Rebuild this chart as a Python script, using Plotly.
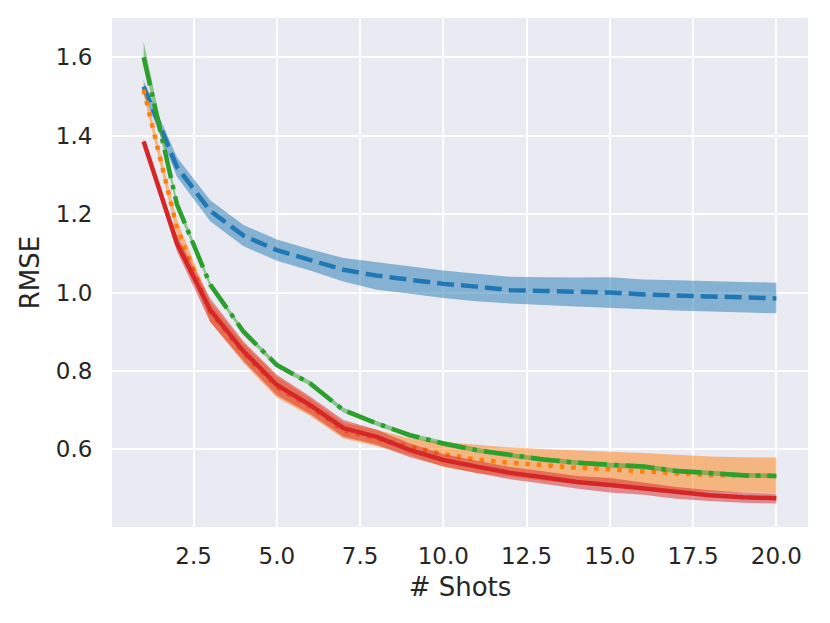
import plotly.graph_objects as go

shots = list(range(1, 21))

blue_mean = [1.525, 1.320, 1.208, 1.145, 1.108, 1.083, 1.058, 1.043, 1.033, 1.022,
             1.015, 1.006, 1.004, 1.002, 1.000, 0.995, 0.992, 0.990, 0.988, 0.985]
blue_upper = [1.540, 1.345, 1.235, 1.172, 1.135, 1.110, 1.088, 1.077, 1.067, 1.056,
              1.048, 1.040, 1.039, 1.038, 1.039, 1.033, 1.031, 1.029, 1.027, 1.025]
blue_lower = [1.505, 1.295, 1.182, 1.118, 1.081, 1.056, 1.028, 1.007, 0.997, 0.986,
              0.978, 0.972, 0.968, 0.964, 0.960, 0.957, 0.954, 0.951, 0.949, 0.947]

orange_mean = [1.517, 1.165, 0.950, 0.845, 0.758, 0.708, 0.648, 0.627, 0.607, 0.588,
               0.574, 0.566, 0.559, 0.553, 0.549, 0.545, 0.539, 0.534, 0.533, 0.532]
orange_upper = [1.530, 1.185, 0.975, 0.870, 0.785, 0.730, 0.668, 0.650, 0.628, 0.619,
                0.612, 0.605, 0.601, 0.597, 0.594, 0.591, 0.586, 0.582, 0.580, 0.579]
orange_lower = [1.505, 1.145, 0.925, 0.820, 0.732, 0.685, 0.628, 0.608, 0.585, 0.555,
                0.540, 0.530, 0.520, 0.512, 0.505, 0.500, 0.496, 0.492, 0.490, 0.489]

green_mean = [1.600, 1.225, 1.020, 0.900, 0.815, 0.768, 0.700, 0.666, 0.636, 0.615,
              0.598, 0.585, 0.574, 0.566, 0.560, 0.556, 0.545, 0.539, 0.534, 0.532]
green_upper = [1.640, 1.235, 1.027, 0.906, 0.821, 0.774, 0.706, 0.672, 0.642, 0.621,
               0.604, 0.591, 0.580, 0.572, 0.566, 0.562, 0.551, 0.545, 0.540, 0.538]
green_lower = [1.585, 1.215, 1.013, 0.894, 0.809, 0.762, 0.694, 0.660, 0.630, 0.609,
               0.592, 0.579, 0.568, 0.560, 0.554, 0.550, 0.539, 0.533, 0.528, 0.526]

red_mean = [1.385, 1.125, 0.955, 0.850, 0.764, 0.713, 0.654, 0.632, 0.598, 0.573,
            0.556, 0.540, 0.529, 0.517, 0.509, 0.500, 0.490, 0.483, 0.478, 0.475]
red_upper = [1.392, 1.145, 0.985, 0.875, 0.790, 0.735, 0.675, 0.650, 0.615, 0.588,
             0.571, 0.555, 0.544, 0.532, 0.527, 0.515, 0.504, 0.496, 0.490, 0.487]
red_lower = [1.378, 1.105, 0.925, 0.825, 0.738, 0.690, 0.632, 0.612, 0.580, 0.557,
             0.540, 0.524, 0.512, 0.500, 0.490, 0.484, 0.474, 0.468, 0.464, 0.462]

x_ticks = [2.5, 5.0, 7.5, 10.0, 12.5, 15.0, 17.5, 20.0]
y_ticks = [0.6, 0.8, 1.0, 1.2, 1.4, 1.6]

series = [
    ("blue", "#1f77b4", "rgba(31,119,180,0.5)", "17px,7px", blue_mean, blue_upper, blue_lower),
    ("orange", "#ff7f0e", "rgba(255,127,14,0.5)", "4.5px,7px", orange_mean, orange_upper, orange_lower),
    ("green", "#2ca02c", "rgba(44,160,44,0.5)", "29px,7px,4.5px,7px", green_mean, green_upper, green_lower),
    ("red", "#d62728", "rgba(214,39,40,0.5)", "solid", red_mean, red_upper, red_lower),
]

fig = go.Figure()
for name, col, fillcol, dash, mean, up, lo in series:
    fig.add_trace(go.Scatter(x=shots, y=mean, mode="lines", name=name,
                             line=dict(color=col, width=4.5, dash=dash),
                             showlegend=False, hoverinfo="skip"))
    fig.add_trace(go.Scatter(x=shots + shots[::-1], y=up + lo[::-1], mode="lines",
                             fill="toself", fillcolor=fillcol, line=dict(width=0),
                             showlegend=False, hoverinfo="skip"))

font_col = "#262626"
fig.update_layout(
    width=822, height=615,
    margin=dict(l=104, r=22, t=10, b=96),
    paper_bgcolor="white", plot_bgcolor="#EAEAF2",
    font=dict(family="DejaVu Sans", size=23, color=font_col),
    showlegend=False,
)
fig.update_xaxes(
    range=[0.05, 20.95], tickvals=x_ticks, ticktext=[f"{v:.1f}" for v in x_ticks],
    showgrid=True, gridcolor="white", gridwidth=2, zeroline=False, showline=False,
    ticks="outside", ticklen=8, tickcolor="rgba(0,0,0,0)",
    tickfont=dict(size=23, color=font_col),
    title=dict(text="# Shots", font=dict(size=26, color=font_col), standoff=10),
)
fig.update_yaxes(
    range=[0.402, 1.700], tickvals=y_ticks, ticktext=[f"{v:.1f}" for v in y_ticks],
    showgrid=True, gridcolor="white", gridwidth=2, zeroline=False, showline=False,
    ticks="outside", ticklen=14, tickcolor="rgba(0,0,0,0)",
    tickfont=dict(size=23, color=font_col),
    title=dict(text="RMSE", font=dict(size=26, color=font_col), standoff=8),
)
fig.write_html("out.html")
